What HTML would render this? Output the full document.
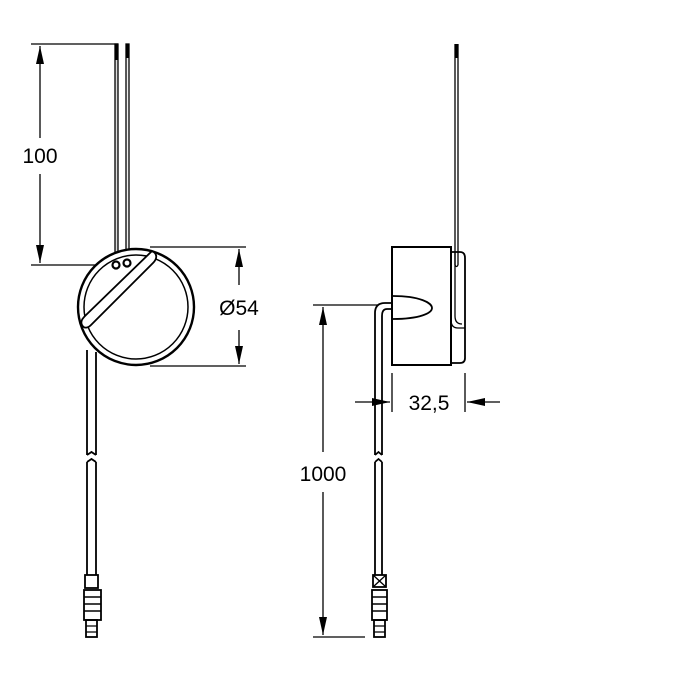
<!DOCTYPE html>
<html><head><style>body{margin:0;background:#fff}svg{display:block}</style></head><body>
<svg width="700" height="700" viewBox="0 0 700 700" xmlns="http://www.w3.org/2000/svg" font-family="Liberation Sans, sans-serif">
<defs>
<marker id="a" viewBox="0 0 10 10" refX="10" refY="5" markerWidth="18" markerHeight="8" orient="auto-start-reverse" markerUnits="userSpaceOnUse" preserveAspectRatio="none"><path d="M0,0L10,5L0,10z" fill="#000"/></marker>
</defs>
<g stroke="#000" fill="none" stroke-width="1.3">
<line x1="31" y1="44" x2="118" y2="44"/>
<line x1="31" y1="265" x2="115" y2="265"/>
<line x1="40" y1="46" x2="40" y2="138" marker-start="url(#a)"/>
<line x1="40" y1="174" x2="40" y2="263" marker-end="url(#a)"/>
<rect x="115" y="44" width="3" height="220" fill="#ddd"/>
<rect x="126" y="44" width="3" height="218" fill="#eee"/>
<line x1="116.5" y1="44" x2="116.5" y2="60" stroke-width="3"/>
<line x1="127.5" y1="44" x2="127.5" y2="58" stroke-width="3"/>
<circle cx="136" cy="307" r="58" stroke-width="2.4" fill="#fff"/>
<circle cx="136" cy="307" r="52" stroke-width="1.5"/>
<path d="M152,251 C158,254 157,259 153,263 L91,325 C88,328 84,329 82,325 C80,321 83,318 86,315 Z" fill="#fff" stroke-width="1.8"/>
<circle cx="116" cy="265" r="3.5" stroke-width="2.2"/>
<circle cx="127" cy="263" r="3.5" stroke-width="2.2"/>
<line x1="150" y1="247" x2="246" y2="247"/>
<line x1="150" y1="366" x2="246" y2="366"/>
<line x1="239" y1="249" x2="239" y2="285" marker-start="url(#a)"/>
<line x1="239" y1="330" x2="239" y2="364" marker-end="url(#a)"/>
<path d="M87,350 V455 M96,352 V455 M87,455 l4.5,-3 4.5,3 M87,462 l4.5,-3 4.5,3 M87,462 V575 M96,462 V575" stroke-width="1.8"/>
<rect x="85" y="575" width="13" height="13" stroke-width="1.8"/>
<rect x="84" y="590" width="17" height="30" stroke-width="1.8"/>
<path d="M84,597 H101 M84,604 H101 M84,611 H101" stroke-width="1.5"/>
<rect x="86" y="620" width="11" height="17" stroke-width="1.8"/>
<path d="M86,626 H97 M86,632 H97"/>
<line x1="455" y1="44" x2="455" y2="265"/>
<line x1="458" y1="44" x2="458" y2="265"/>
<line x1="456.5" y1="44" x2="456.5" y2="58" stroke-width="3"/>
<path d="M392,247 H451 V365 H392 Z" stroke-width="2" fill="#fff"/>
<path d="M451,252 H460 Q465,252 465,258 V358 Q465,363 460,363 H451" stroke-width="1.8"/>
<path d="M451,252 V320 Q451,328 458,328 H465 M455,252 V316 Q455,324 462,324"/>
<path d="M455,265 Q456.5,268 458,265"/>
<path d="M393,296 C420,296 432,303 432,308 C432,313 420,319 393,319" stroke-width="1.8"/>
<path d="M392,303 H385 Q375,303 375,313 V455 M392,309 H387 Q382,309 382,316 V455" stroke-width="1.8"/>
<path d="M375,455 l3.5,-3 3.5,3 M375,462 l3.5,-3 3.5,3 M375,462 V575 M382,462 V575" stroke-width="1.8"/>
<rect x="373" y="575" width="13" height="12" stroke-width="1.8"/>
<path d="M373,587 L386,575 M373,575 L386,587"/>
<rect x="372" y="590" width="15" height="30" stroke-width="1.8"/>
<path d="M372,597 H387 M372,604 H387 M372,611 H387" stroke-width="1.5"/>
<rect x="374" y="620" width="11" height="17" stroke-width="1.8"/>
<path d="M374,626 H385 M374,632 H385"/>
<line x1="313" y1="305" x2="378" y2="305"/>
<line x1="313" y1="637" x2="365" y2="637"/>
<line x1="323" y1="307" x2="323" y2="452" marker-start="url(#a)"/>
<line x1="323" y1="492" x2="323" y2="635" marker-end="url(#a)"/>
<line x1="392" y1="373" x2="392" y2="412"/>
<line x1="465" y1="373" x2="465" y2="412"/>
<line x1="355" y1="402" x2="390" y2="402" marker-end="url(#a)"/>
<line x1="500" y1="402" x2="467" y2="402" marker-end="url(#a)"/>
</g>
<g font-size="21" fill="#000" text-anchor="middle">
<text x="40" y="163">100</text>
<text x="239" y="315">Ø54</text>
<text x="323" y="481">1000</text>
<text x="429" y="410">32,5</text>
</g>
</svg>
</body></html>
